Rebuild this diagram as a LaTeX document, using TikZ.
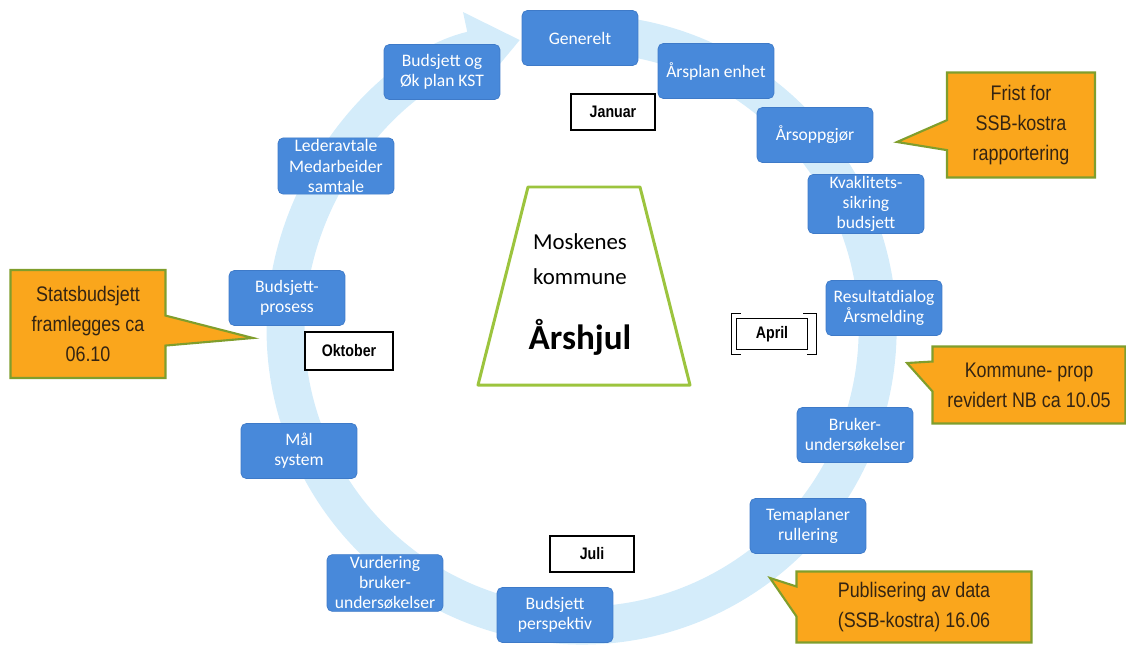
\documentclass[tikz,border=0pt]{standalone}
\usepackage{fontspec}
\setmainfont{Carlito}
\newfontfamily\notefont[FakeStretch=0.85]{Liberation Sans}
\usepackage{tikz}
\usetikzlibrary{shapes, shapes.callouts, arrows.meta, positioning}
\definecolor{stageblue}{RGB}{72,137,218}
\definecolor{stageedge}{RGB}{62,122,200}
\definecolor{ringblue}{RGB}{212,236,250}
\definecolor{noteorange}{RGB}{250,166,28}
\definecolor{noteedge}{RGB}{128,158,44}
\definecolor{notetext}{RGB}{52,36,18}
\definecolor{hubgreen}{RGB}{156,196,62}
\tikzstyle{stage} = [draw=stageedge, fill=stageblue, rounded corners=3pt,
    text=white, align=center, minimum width=2.32cm, minimum height=1.1cm,
    inner sep=1pt, font=\fontsize{10}{11.5}\selectfont]
\tikzstyle{month} = [draw=black, line width=0.9pt, fill=white,
    minimum width=1.68cm, minimum height=0.72cm,
    font=\notefont\bfseries\fontsize{9.5}{11}\selectfont]
\tikzstyle{note} = [rectangle callout, draw=noteedge, line width=1.2pt,
    fill=noteorange, text=notetext, align=center, callout pointer width=0.6cm,
    font=\notefont\fontsize{12}{17}\selectfont]
\tikzstyle{ring} = [draw=ringblue, line width=0.76cm,
    -{Triangle[width=1.5cm, length=1cm]}]
\tikzstyle{hub} = [draw=hubgreen, line width=1.7pt, line join=round]

\begin{document}
\begin{tikzpicture}[x=0.02cm, y=-0.02cm]
        \useasboundingbox (0,0) rectangle (1126,653);
        % year wheel
        \draw[ring] (633,38) arc[start angle=-80, end angle=258, radius=296];

        \begin{scope}
        \node[stage] at (580,38) (gen) {Generelt};
        \node[stage] at (716,71) (aarsplan) {Årsplan enhet};
        \node[stage] at (815,135) (oppgjor) {Årsoppgjør};
        \node[stage] at (866,204) (kvalitet) {Kvaklitets-\\sikring\\budsjett};
        \node[stage] at (884,308) (resultat) {Resultatdialog\\Årsmelding};
        \node[stage] at (855,435) (bruker) {Bruker-\\undersøkelser};
        \node[stage] at (808,526) (tema) {Temaplaner\\rullering};
        \node[stage] at (555,615) (perspektiv) {Budsjett\\perspektiv};
        \node[stage] at (385,583) (vurdering) {Vurdering\\bruker-\\undersøkelser};
        \node[stage] at (299,451) (maal) {Mål\\system};
        \node[stage] at (287,298) (prosess) {Budsjett-\\prosess};
        \node[stage] at (336,166) (leder) {Lederavtale\\Medarbeider\\samtale};
        \node[stage] at (442,72) (okplan) {Budsjett og\\Øk plan KST};
        \end{scope}

        % months
        \node[month] at (613,112) (jan) {Januar};
        \node[month, minimum width=1.42cm, minimum height=0.62cm] at (772,334) (apr) {April};
        \node[month] at (592,554) (jul) {Juli};
        \node[month, minimum width=1.76cm, minimum height=0.76cm] at (349,351) (okt) {Oktober};
        \draw[thin] ([xshift=3pt,yshift=2.5pt]apr.north west) -| ([xshift=-2.5pt,yshift=-2.5pt]apr.south west) -- ++(5.5pt,0);
        \draw[thin] ([xshift=-3pt,yshift=2.5pt]apr.north east) -| ([xshift=4.5pt,yshift=-2.5pt]apr.south east) -- ++(-5.5pt,0);

        % centre
        \draw[hub] (528,187) -- (640,187) -- (690,385) -- (478,385) -- cycle;
        \node[font=\fontsize{13}{15}\selectfont] at (580,242) (moskenes) {Moskenes};
        \node[font=\fontsize{13}{15}\selectfont] at (580,277) (kommune) {kommune};
        \node[font=\bfseries\fontsize{20}{24}\selectfont] at (580,337) (hjul) {Årshjul};

        % notes
        \coordinate (fristtip) at (897,142);
        \coordinate (statstip) at (253,338);
        \coordinate (proptip) at (907,363);
        \coordinate (datatip) at (770,578);
        \node[note, minimum width=2.96cm, minimum height=2.1cm, callout absolute pointer={(fristtip)}] at (1021,125) (frist) {Frist for\\SSB-kostra\\rapportering};
        \node[note, minimum width=3.1cm, minimum height=2.16cm, callout absolute pointer={(statstip)}] at (88,324) (stats) {Statsbudsjett\\framlegges ca\\06.10};
        \node[note, minimum width=3.86cm, minimum height=1.54cm, callout absolute pointer={(proptip)}] at (1029,385) (prop) {Kommune- prop\\revidert NB ca 10.05};
        \node[note, minimum width=4.7cm, minimum height=1.42cm, callout absolute pointer={(datatip)}] at (914,607) (data) {Publisering av data\\(SSB-kostra) 16.06};
\end{tikzpicture}
\end{document}
